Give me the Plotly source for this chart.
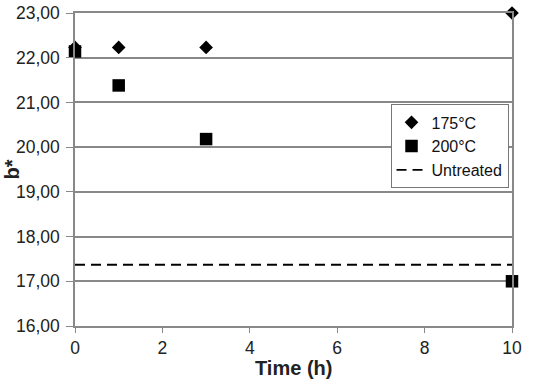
import plotly.graph_objects as go

time_175 = [0, 1, 3, 10]
b_175 = [22.23, 22.23, 22.23, 23.0]
time_200 = [0, 1, 3, 10]
b_200 = [22.14, 21.38, 20.18, 17.0]
untreated_x = [0, 10]
untreated_b = [17.37, 17.37]
x_ticks = [0, 2, 4, 6, 8, 10]
y_ticks = [16, 17, 18, 19, 20, 21, 22, 23]

fig = go.Figure()
fig.add_trace(go.Scatter(x=time_175, y=b_175, mode="markers", name="175°C",
                         marker=dict(symbol="diamond", size=10.5, color="black"),
                         cliponaxis=False))
fig.add_trace(go.Scatter(x=time_200, y=b_200, mode="markers", name="200°C",
                         marker=dict(symbol="square", size=12.5, color="black"),
                         cliponaxis=False))
fig.add_trace(go.Scatter(x=untreated_x, y=untreated_b, mode="lines", name="Untreated",
                         line=dict(color="black", width=1.8, dash="10px,6px")))

font = "Liberation Sans, Arial, sans-serif"
fig.update_layout(
    width=536, height=384,
    margin=dict(l=75, r=24, t=13, b=58),
    paper_bgcolor="white", plot_bgcolor="white",
    separators=",.",
    font=dict(family=font, size=17.5, color="#222"),
    showlegend=True,
    legend=dict(x=0.722, y=0.708, xanchor="left", yanchor="top",
                bgcolor="white", bordercolor="#777", borderwidth=1,
                font=dict(size=16, color="#111"), itemwidth=30,
                tracegroupgap=0),
    xaxis=dict(range=[0, 10], tickvals=x_ticks, showgrid=False, automargin=False,
               showline=True, linecolor="#888", linewidth=1.5, mirror=True,
               ticks="outside", ticklen=5, tickcolor="#888", zeroline=False),
    yaxis=dict(range=[16, 23], tickvals=y_ticks, tickformat=".2f", automargin=False,
               showgrid=True, gridcolor="#888", gridwidth=1.5,
               showline=True, linecolor="#888", linewidth=1.5, mirror=True,
               ticks="outside", ticklen=7, tickcolor="#888", zeroline=False,
               ticklabelstandoff=3),
    annotations=[
        dict(text="<b>Time (h)</b>", xref="paper", yref="paper", x=0.5, y=0,
             xanchor="center", yanchor="middle", yshift=-42, showarrow=False,
             font=dict(size=20, color="#222")),
        dict(text="<b>b*</b>", xref="paper", yref="paper", x=0, y=0.5,
             xanchor="center", yanchor="middle", xshift=-64, textangle=-90,
             showarrow=False, font=dict(size=20, color="#222")),
    ],
)
fig.write_html("out.html", config={"displayModeBar": False},
               post_script="document.body.style.margin='0';document.body.style.overflow='hidden';")
